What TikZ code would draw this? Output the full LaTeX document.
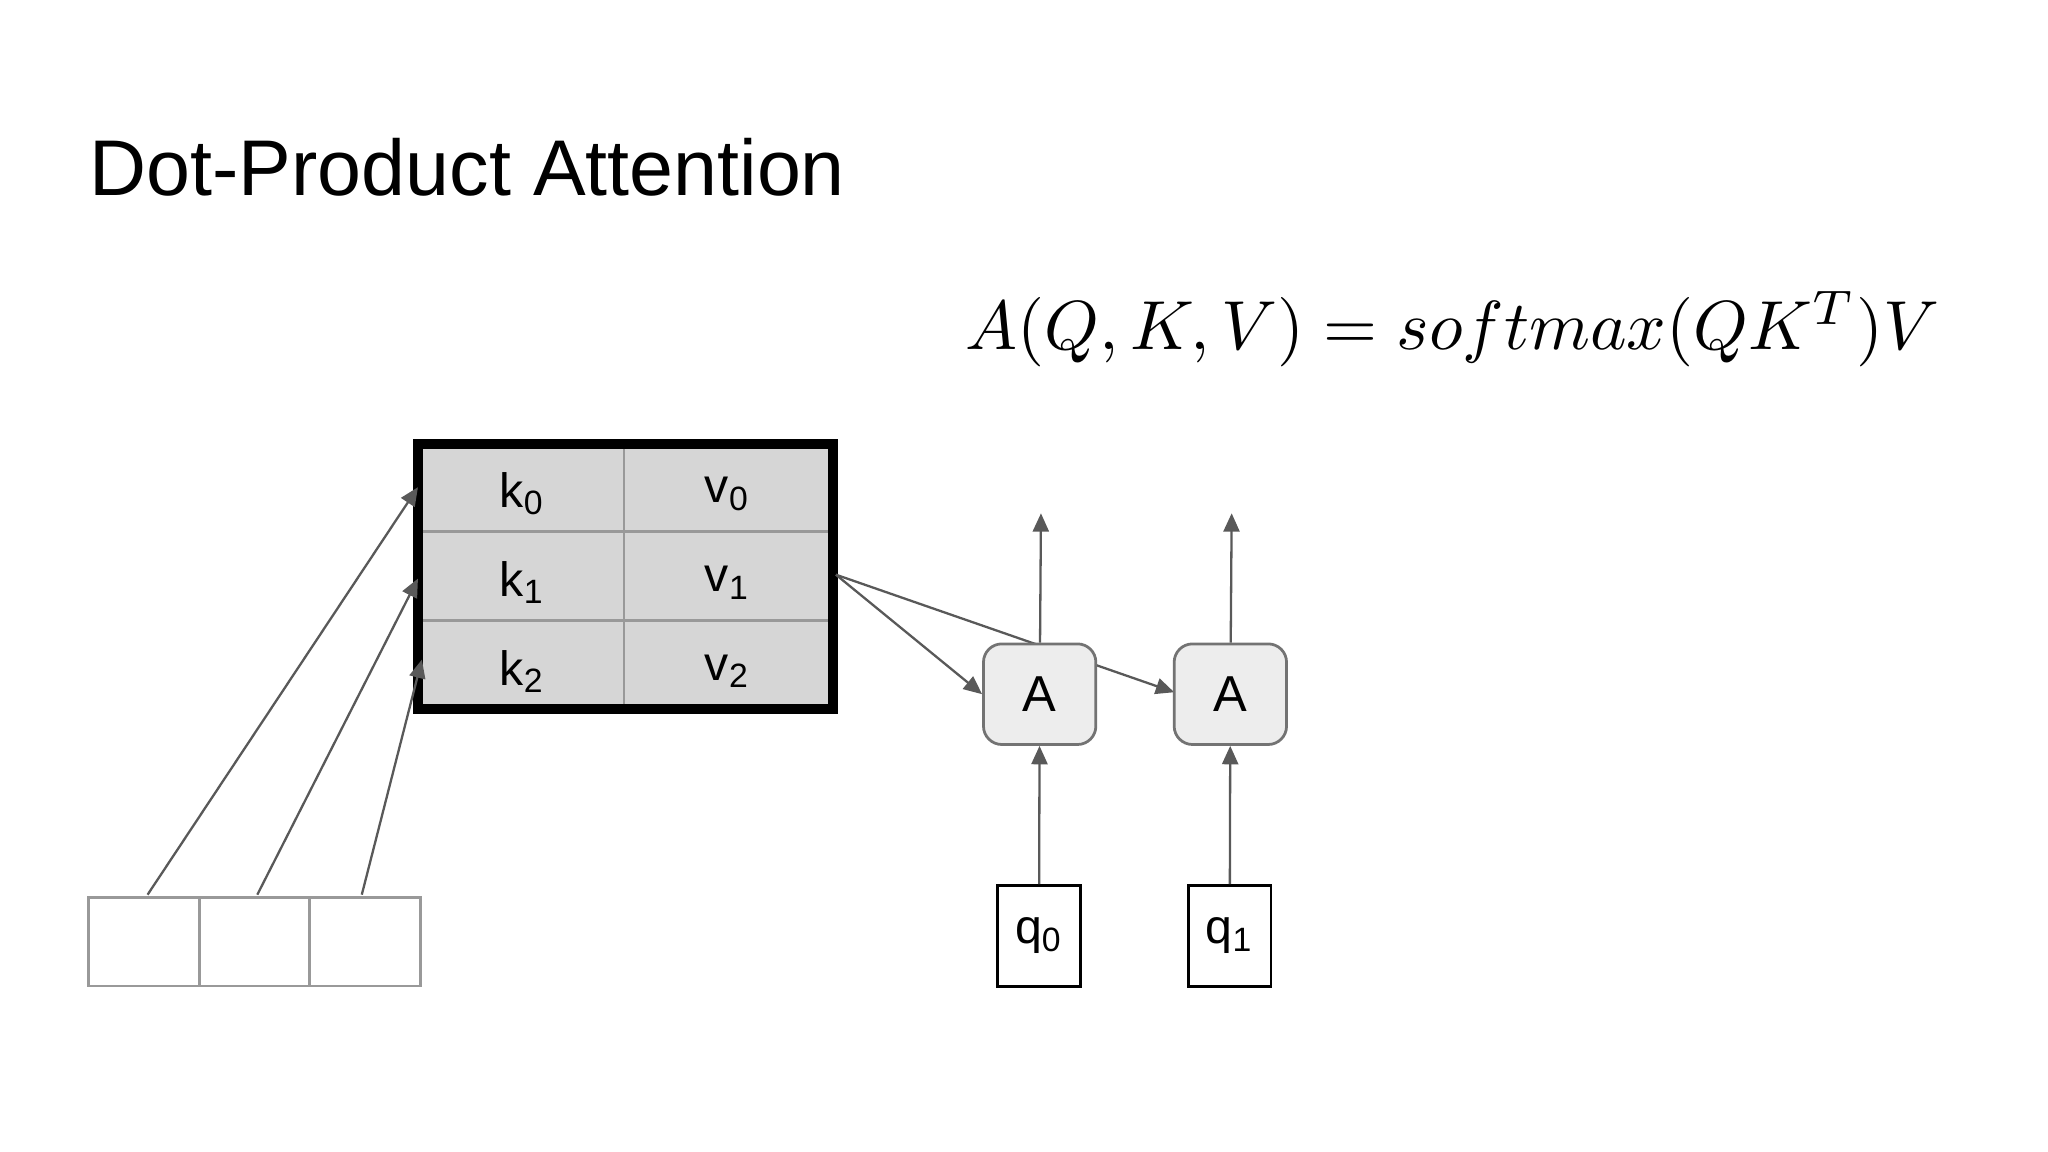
\documentclass[tikz,border=0pt]{standalone}
\usepackage{fontspec}
\setmainfont{Liberation Sans}
\usetikzlibrary{arrows.meta}
\begin{document}
\begin{tikzpicture}[x=0.01cm,y=-0.01cm,
  arr/.style={draw=black!65,line width=0.5pt,-{Triangle[length=4pt,width=3.5pt]}},
  abox/.style={draw=black!55,fill=black!7,rounded corners=4pt,minimum width=0.86cm,minimum height=0.77cm,font=\fontsize{11}{11}\selectfont,line width=0.6pt},
  qbox/.style={draw=black,fill=white,minimum width=0.63cm,minimum height=0.77cm,font=\fontsize{10.5}{11}\selectfont,line width=0.6pt},
  cell/.style={font=\fontsize{10.5}{11}\selectfont}]
\useasboundingbox (0,0) rectangle (1568,882);
\node[anchor=base west,font=\fontsize{17.2}{18}\selectfont,inner sep=0] (title) at (68,150) {Dot-Product Attention};
\node (eq) at (1112,252) {\resizebox{7.45cm}{!}{$A(Q,K,V)=softmax(QK^T)V$}};
% table
\fill[black!16] (320,340) rectangle (638,543);
\draw[black!40,line width=0.5pt] (478,340) -- (478,543) (320,407) -- (638,407) (320,475) -- (638,475);
\draw[line width=2.2pt] (320,340) rectangle (638,543);
\coordinate (t0) at (320,373); \coordinate (t1) at (320,443); \coordinate (t2) at (323,505);
\coordinate (tr) at (640,440);
\node[cell] (k0) at (400,378) {k\textsubscript{0}};
\node[cell] (v0) at (557,378) {v\textsubscript{0}};
\node[cell] (k1) at (400,446) {k\textsubscript{1}};
\node[cell] (v1) at (557,446) {v\textsubscript{1}};
\node[cell] (k2) at (400,514) {k\textsubscript{2}};
\node[cell] (v2) at (557,514) {v\textsubscript{2}};
% bottom cells
\draw[black!40,line width=0.6pt] (68,687) rectangle (322,755) (153,687) -- (153,755) (237,687) -- (237,755);
\coordinate (b0) at (113,685); \coordinate (b1) at (197,685); \coordinate (b2) at (277,685);
\draw[arr] (b0) -- (t0);
\draw[arr] (b1) -- (t1);
\draw[arr] (b2) -- (t2);
% A nodes
\node[qbox] (q0) at (795.5,716.5) {q\textsubscript{0}};
\node[qbox] (q1) at (941.5,716.5) {q\textsubscript{1}};
\coordinate (a2w) at (899,530);
\draw[arr] (tr) -- (a2w);
\node[abox] (a1) at (796,531.5) {A};
\node[abox] (a2) at (942,531.5) {A};
\draw[arr] (tr) -- (a1.west);
\draw[arr] (q0) -- (a1);
\draw[arr] (q1) -- (a2);
\coordinate (o1) at (797,393); \coordinate (o2) at (943,393);
\draw[arr] (a1) -- (o1);
\draw[arr] (a2) -- (o2);
\end{tikzpicture}
\end{document}
